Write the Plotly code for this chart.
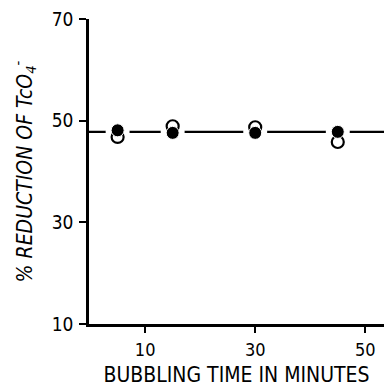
import plotly.graph_objects as go

# Bubbling time (minutes) and % reduction of pertechnetate
bubbling_time = [5, 15, 30, 45]
reduction_filled = [48.1, 47.6, 47.6, 47.8]
reduction_open = [46.8, 48.9, 48.7, 45.8]
mean_reduction = 47.8

x_ticks = [10, 30, 50]
y_ticks = [10, 30, 50, 70]

font_family = "'Liberation Sans Narrow', 'DejaVu Sans Condensed', sans-serif"

fig = go.Figure()

# horizontal mean line across the plot
fig.add_hline(y=mean_reduction, line=dict(color="black", width=2.2), layer="below")

# white gaps in the mean line around each pair of points
fig.add_trace(go.Scatter(
    x=bubbling_time, y=[mean_reduction] * len(bubbling_time), mode="markers",
    marker=dict(symbol="circle", size=24, color="white", line=dict(width=0)),
    hoverinfo="skip", showlegend=False,
))

fig.add_trace(go.Scatter(
    x=bubbling_time, y=reduction_open, mode="markers",
    marker=dict(symbol="circle", size=12, color="white",
                line=dict(color="black", width=2.2)),
    showlegend=False,
))
fig.add_trace(go.Scatter(
    x=bubbling_time, y=reduction_filled, mode="markers",
    marker=dict(symbol="circle", size=13, color="black",
                line=dict(color="white", width=1)),
    showlegend=False,
))

fig.update_layout(
    width=384, height=387,
    margin=dict(l=89, r=0, t=19, b=63),
    paper_bgcolor="white", plot_bgcolor="white",
    font=dict(family=font_family, color="black", size=18),
    xaxis=dict(
        range=[-0.2, 53.4], tickvals=x_ticks,
        ticks="outside", ticklen=6, tickwidth=1.5, tickcolor="black",
        showline=True, linecolor="black", linewidth=2.5,
        showgrid=False, zeroline=False,
        ticklabelstandoff=2,
        tickfont=dict(size=18),
        title=dict(text="BUBBLING TIME IN MINUTES", standoff=12,
                   font=dict(size=21)),
    ),
    yaxis=dict(
        range=[10, 70], tickvals=y_ticks,
        ticks="outside", ticklen=7, tickwidth=1.5, tickcolor="black",
        showline=True, linecolor="black", linewidth=2.5,
        showgrid=False, zeroline=False,
        ticklabelstandoff=2,
        tickfont=dict(size=19),
        title=dict(text="<i>% REDUCTION OF TcO<sub>4</sub><sup>-</sup></i>",
                   standoff=14, font=dict(size=21)),
    ),
)

fig.write_html("out.html")
